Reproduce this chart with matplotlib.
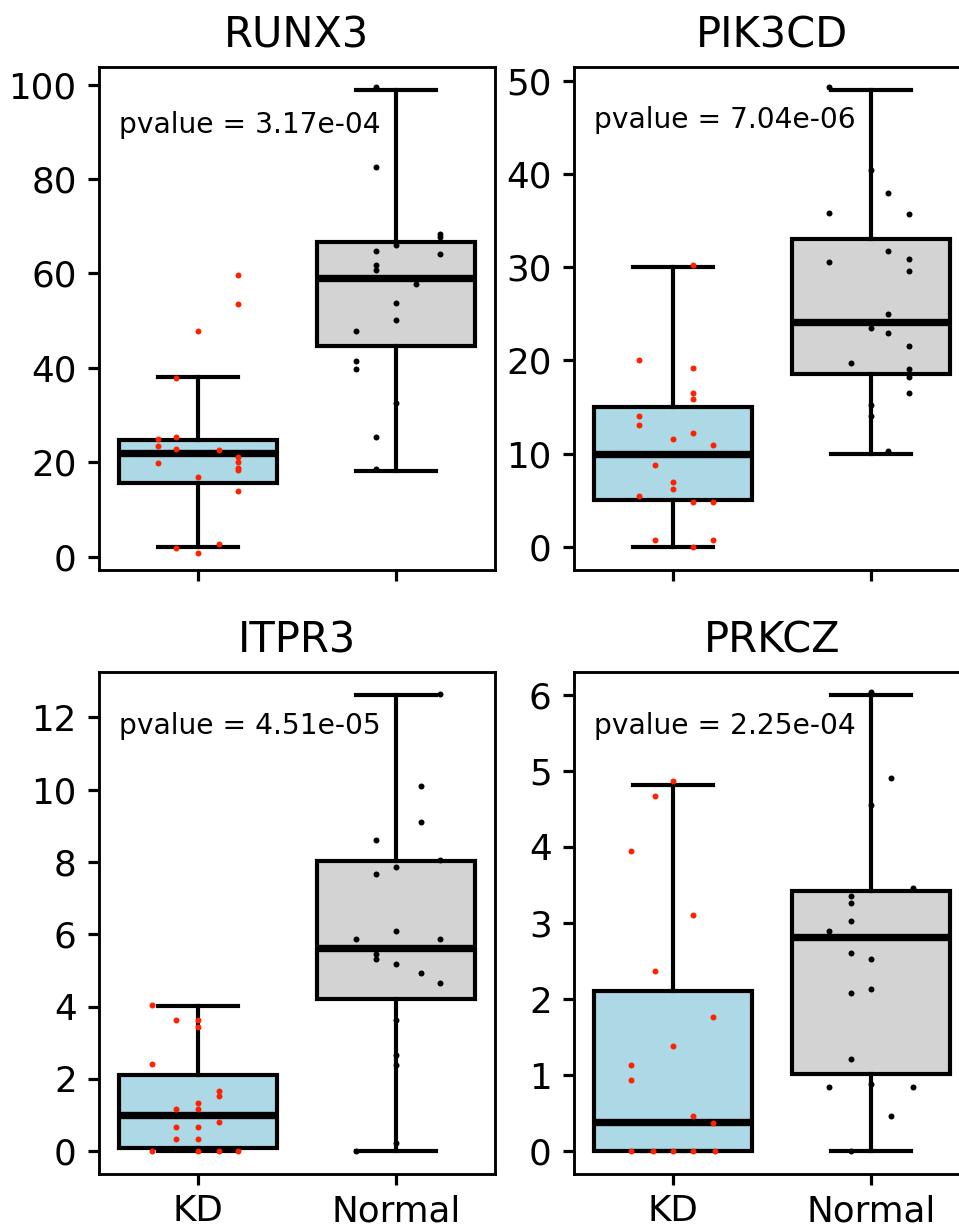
import matplotlib
matplotlib.use('Agg')
import matplotlib.pyplot as plt
from matplotlib.ticker import MultipleLocator

# ---------------- data ----------------
genes = ['RUNX3', 'PIK3CD', 'ITPR3', 'PRKCZ']
groups = ['KD', 'Normal']
pvalues = ['3.17e-04', '7.04e-06', '4.51e-05', '2.25e-04']
ytick_steps = [20, 10, 2, 1]

# box statistics: q1, median, q3, whisker low, whisker high
kd_q1 = [15.5, 5.0, 0.09, 0.0]
kd_med = [22.0, 10.0, 1.0, 0.39]
kd_q3 = [24.6, 15.0, 2.1, 2.10]
kd_wlo = [2.0, 0.0, 0.0, 0.0]
kd_whi = [38.1, 30.0, 4.01, 4.81]

nm_q1 = [44.7, 18.6, 4.21, 1.01]
nm_med = [59.0, 24.1, 5.63, 2.81]
nm_q3 = [66.6, 33.0, 8.02, 3.42]
nm_wlo = [18.1, 10.0, 0.0, 0.0]
nm_whi = [98.9, 49.0, 12.62, 6.0]

# individual samples
runx3_kd = [59.7, 53.6, 47.7, 37.9, 24.9, 25.4, 23.5, 22.7, 22.5, 21.0, 20.0,
            19.8, 18.8, 18.3, 16.9, 14.0, 1.8, 2.75, 0.8]
runx3_kd_jit = [0.2, 0.2, 0.0, -0.11, -0.2, -0.11, -0.2, -0.11, 0.105, 0.2, 0.2,
                -0.2, 0.2, 0.2, 0.0, 0.2, -0.11, 0.105, 0.0]
runx3_nm = [99.5, 82.5, 68.3, 67.7, 66.0, 64.8, 64.2, 61.7, 60.8, 57.8, 53.7,
            50.1, 47.9, 41.5, 39.8, 32.6, 25.4, 18.6]
runx3_nm_jit = [-0.1, -0.1, 0.22, 0.22, 0.0, -0.1, 0.22, -0.1, -0.1, 0.1, 0.0,
                0.0, -0.2, -0.2, -0.2, 0.0, -0.1, -0.1]

pik3cd_kd = [30.2, 20.1, 19.2, 16.5, 15.9, 14.1, 13.1, 12.25, 11.6, 10.9, 8.8,
             7.0, 6.2, 5.5, 4.8, 4.8, 0.8, 0.8, 0.0]
pik3cd_kd_jit = [0.1, -0.17, 0.1, 0.1, 0.1, -0.17, -0.17, 0.1, 0.0, 0.2, -0.09,
                 0.0, 0.0, -0.17, 0.1, 0.2, -0.09, 0.2, 0.1]
pik3cd_nm = [49.3, 40.4, 38.0, 35.8, 35.75, 31.75, 30.6, 30.9, 29.6, 25.0, 23.5,
             22.9, 21.5, 19.7, 19.1, 18.25, 16.5, 15.2, 14.1, 10.25]
pik3cd_nm_jit = [-0.21, 0.0, 0.085, -0.21, 0.19, 0.085, -0.21, 0.19, 0.19, 0.085, 0.0,
                 0.085, 0.19, -0.1, 0.19, 0.19, 0.19, 0.0, 0.0, 0.085]

itpr3_kd = [4.05, 3.62, 3.62, 3.43, 2.40, 1.67, 1.53, 1.32, 1.18, 1.16, 0.80,
            0.68, 0.68, 0.33, 0.33, 0.0, 0.0, 0.0, 0.0]
itpr3_kd_jit = [-0.23, -0.11, 0.0, 0.0, -0.23, 0.105, 0.105, 0.0, -0.11, 0.0, 0.105,
                -0.11, 0.0, -0.11, 0.0, -0.23, 0.0, 0.105, 0.2]
itpr3_nm = [12.64, 10.11, 9.09, 8.60, 8.04, 7.67, 7.85, 6.09, 5.87, 5.86, 5.46,
            5.32, 5.17, 4.93, 4.66, 3.64, 2.65, 2.39, 0.23, 0.0]
itpr3_nm_jit = [0.22, 0.127, 0.127, -0.1, 0.22, -0.1, 0.0, 0.0, -0.2, 0.22, -0.1,
                -0.1, 0.0, 0.127, 0.22, 0.0, 0.0, 0.0, 0.0, -0.2]

prkcz_kd = [4.87, 4.67, 3.95, 3.11, 2.37, 1.77, 1.38, 1.13, 0.93, 0.46, 0.37,
            0.0, 0.0, 0.0, 0.0, 0.0]
prkcz_kd_jit = [0.0, -0.09, -0.21, 0.1, -0.09, 0.2, 0.0, -0.21, -0.21, 0.1, 0.2,
                -0.21, -0.1, 0.0, 0.1, 0.21]
prkcz_nm = [6.04, 4.91, 4.55, 3.46, 3.36, 3.26, 3.03, 2.90, 2.60, 2.53, 2.13,
            2.08, 1.21, 0.85, 0.88, 0.85, 0.46, 0.0]
prkcz_nm_jit = [0.0, 0.1, 0.0, 0.21, -0.1, -0.1, -0.1, -0.21, -0.1, 0.0, 0.0,
                -0.1, -0.1, -0.21, 0.0, 0.21, 0.1, -0.1]

kd_points = [runx3_kd, pik3cd_kd, itpr3_kd, prkcz_kd]
kd_jitter = [runx3_kd_jit, pik3cd_kd_jit, itpr3_kd_jit, prkcz_kd_jit]
nm_points = [runx3_nm, pik3cd_nm, itpr3_nm, prkcz_nm]
nm_jitter = [runx3_nm_jit, pik3cd_nm_jit, itpr3_nm_jit, prkcz_nm_jit]

# ---------------- layout ----------------
DPI = 230
W, H = 959, 1226
fig = plt.figure(figsize=(W / DPI, H / DPI), dpi=DPI)

ax_w = 396 / W
rects = [
    (99 / W, 1 - 570 / H, ax_w, 503 / H),
    (574 / W, 1 - 570 / H, ax_w, 503 / H),
    (99 / W, 1 - 1174 / H, ax_w, 502 / H),
    (574 / W, 1 - 1174 / H, ax_w, 502 / H),
]
text_y = [0.869, 0.878, 0.876, 0.876]
box_colors = ['lightblue', 'lightgray']
dot_colors = ['#ff2200', 'black']

for i, gene in enumerate(genes):
    ax = fig.add_axes(rects[i])
    stats = [
        dict(q1=kd_q1[i], med=kd_med[i], q3=kd_q3[i], whislo=kd_wlo[i],
             whishi=kd_whi[i], fliers=[], label=groups[0]),
        dict(q1=nm_q1[i], med=nm_med[i], q3=nm_q3[i], whislo=nm_wlo[i],
             whishi=nm_whi[i], fliers=[], label=groups[1]),
    ]
    bp = ax.bxp(stats, positions=[0, 1], widths=0.8, patch_artist=True,
                showfliers=False,
                boxprops=dict(linewidth=1.3, edgecolor='black'),
                medianprops=dict(color='black', linewidth=2.3),
                whiskerprops=dict(linewidth=1.3, color='black'),
                capprops=dict(linewidth=1.3, color='black'))
    for patch, c in zip(bp['boxes'], box_colors):
        patch.set_facecolor(c)
    # freeze limits at the box-plot extent
    yl = ax.get_ylim()
    ax.set_ylim(yl)
    ax.set_xlim(-0.5, 1.5)
    ax.yaxis.set_major_locator(MultipleLocator(ytick_steps[i]))

    for g, (pts, jit) in enumerate([(kd_points[i], kd_jitter[i]),
                                    (nm_points[i], nm_jitter[i])]):
        xs = [g + j for j in jit]
        ax.scatter(xs, pts, s=3.5, color=dot_colors[g], zorder=4, linewidths=0)

    ax.set_xticks([0, 1])
    if i >= 2:
        ax.set_xticklabels(groups, fontsize=11.2)
    else:
        ax.set_xticklabels([])
    ax.tick_params(axis='x', pad=2.8)
    ax.tick_params(axis='y', labelsize=11.2)
    ax.tick_params(width=1.0)
    for sp in ax.spines.values():
        sp.set_linewidth(0.9)
    ax.set_title(gene, fontsize=13)
    ax.text(0.05, text_y[i], 'pvalue = ' + pvalues[i], transform=ax.transAxes,
            fontsize=8.8, va='baseline', ha='left')

fig.savefig('out.png', dpi=DPI)
